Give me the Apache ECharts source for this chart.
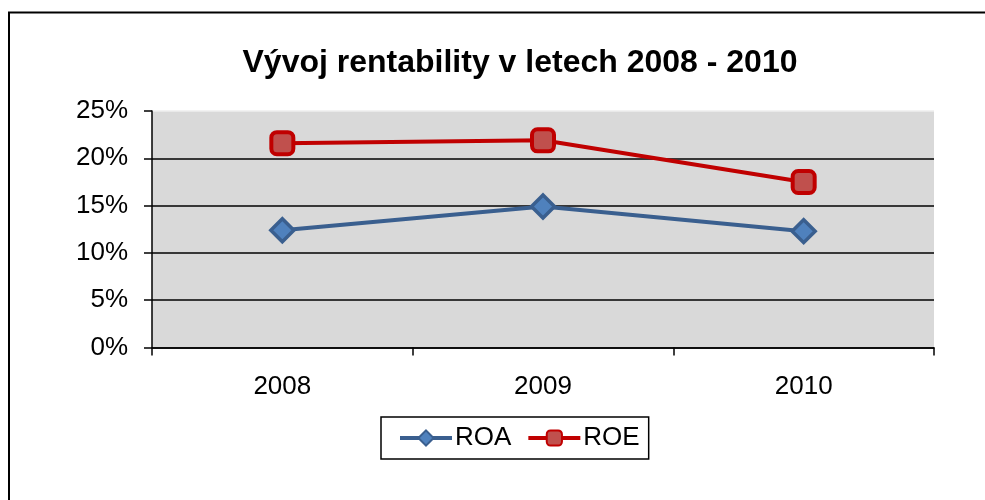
<!DOCTYPE html>
<html>
<head>
<meta charset="utf-8">
<script src="https://cdn.jsdelivr.net/npm/echarts@6/dist/echarts.min.js"></script>
<style>html,body{margin:0;padding:0;background:#fff}#c{width:985px;height:500px}</style>
</head>
<body>
<div id="c"></div>
<script>
const titleText = 'Vývoj rentability v letech 2008 - 2010';
const categories = ['2008', '2009', '2010'];
const roa = [0.124, 0.149, 0.123];
const roe = [0.216, 0.219, 0.175];
const yTicks = [0, 0.05, 0.10, 0.15, 0.20, 0.25];

const chart = echarts.init(document.getElementById('c'), null, {renderer: 'canvas'});
const font = '"Liberation Sans", Arial, sans-serif';
chart.setOption({
  animation: false,
  backgroundColor: '#fff',
  textStyle: {fontFamily: font},
  graphic: [{
    type: 'rect', silent: true, z: 100,
    shape: {x: 9, y: 12.5, width: 1100, height: 700},
    style: {fill: 'none', stroke: '#000', lineWidth: 2}
  }],
  title: {
    text: titleText, left: 515, textAlign: 'center', top: 42,
    textStyle: {fontFamily: font, fontSize: 32, fontWeight: 'bold', color: '#000'}
  },
  legend: {
    left: 381, top: 417,
    padding: [8, 9, 8, 17],
    itemGap: 15, itemWidth: 52, itemHeight: 19,
    borderColor: '#000', borderWidth: 1.5, backgroundColor: '#fff',
    lineStyle: {width: 4},
    textStyle: {fontFamily: font, fontSize: 26, color: '#000', padding: [0, 0, 0, -2]},
    data: ['ROA', 'ROE']
  },
  grid: {left: 152, right: 51, top: 111, bottom: 152.5, show: true, backgroundColor: '#d9d9d9', borderWidth: 0},
  xAxis: {
    type: 'category', data: categories, boundaryGap: true,
    axisLine: {lineStyle: {color: '#000', width: 1.5}},
    axisTick: {show: true, length: 8, lineStyle: {color: '#000', width: 1.5}},
    axisLabel: {fontFamily: font, fontSize: 26, color: '#000', margin: 26}
  },
  yAxis: {
    type: 'value', min: yTicks[0], max: yTicks[yTicks.length - 1], interval: 0.05,
    axisLine: {show: true, lineStyle: {color: '#000', width: 1.5}},
    axisTick: {show: true, length: 8, lineStyle: {color: '#000', width: 1.5}},
    axisLabel: {fontFamily: font, fontSize: 26, color: '#000', margin: 24,
      formatter: v => Math.round(v * 100) + '%'},
    splitLine: {show: true, lineStyle: {color: ['#000', '#000', '#000', '#000', '#000', '#eeeeee'], width: 1.5}}
  },
  series: [{
    name: 'ROA', type: 'line', data: roa,
    symbol: 'diamond', symbolSize: 23,
    lineStyle: {color: '#3a5f8f', width: 4},
    itemStyle: {color: '#4f81bd', borderColor: '#3a5f8f', borderWidth: 3.5},
    z: 3
  }, {
    name: 'ROE', type: 'line', data: roe,
    symbol: 'roundRect', symbolSize: 22,
    lineStyle: {color: '#c00000', width: 4},
    itemStyle: {color: '#c0504d', borderColor: '#c00000', borderWidth: 4},
    z: 4
  }]
});
</script>
</body>
</html>
